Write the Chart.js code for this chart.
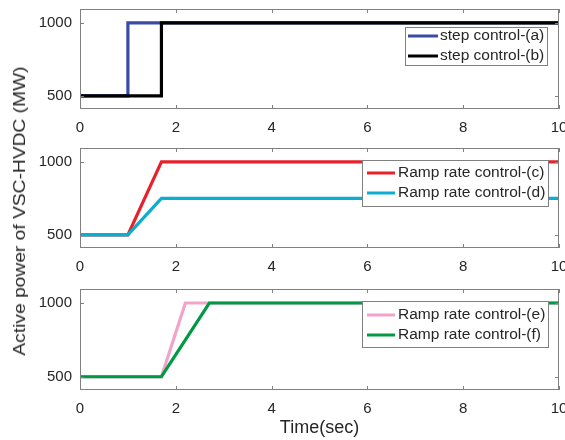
<!DOCTYPE html>
<html><head><meta charset="utf-8">
<script src="https://cdn.jsdelivr.net/npm/chart.js@4.4.0/dist/chart.umd.min.js"></script>
<style>
html,body{margin:0;padding:0;background:#fff;}
#wrap{position:relative;width:565px;height:440px;overflow:hidden;background:#fff;}
canvas{position:absolute;left:0;}
#ylab{position:absolute;left:20px;top:211px;transform:translate(-50%,-50%) rotate(-90deg) scaleX(1.13);white-space:nowrap;font:17px "Liberation Sans",Arial,sans-serif;color:#262626;}
</style></head><body>
<div id="wrap">
<canvas id="c1" width="565" height="140" style="top:0px"></canvas>
<canvas id="c2" width="565" height="140" style="top:139px"></canvas>
<canvas id="c3" width="565" height="159" style="top:281px"></canvas>
<div id="ylab">Active power of VSC-HVDC (MW)</div>
</div>
<script>
// ---- data (time in sec, power in MW) ----
const xTicks = [0, 2, 4, 6, 8, 10];
const yTicks = [500, 1000];

const tA = [0, 1.0, 1.0, 10];   const pA = [500, 500, 1000, 1000];
const tB = [0, 1.7, 1.7, 10];   const pB = [500, 500, 1000, 1000];
const tC = [0, 1.0, 1.7, 10];   const pC = [500, 500, 1000, 1000];
const tD = [0, 1.0, 1.7, 10];   const pD = [500, 500, 750, 750];
const tE = [0, 1.7, 2.2, 10];   const pE = [500, 500, 1000, 1000];
const tF = [0, 1.7, 2.7, 10];   const pF = [500, 500, 1000, 1000];

const labelsTop = ['step control-(a)', 'step control-(b)'];
const labelsMid = ['Ramp rate control-(c)', 'Ramp rate control-(d)'];
const labelsBot = ['Ramp rate control-(e)', 'Ramp rate control-(f)'];

const FONT = '"Liberation Sans", Arial, sans-serif';
const TXT = '#262626';
const FRAME = '#808080';

function pts(t, p) { return t.map((v, i) => ({ x: v, y: p[i] })); }

const framePlugin = {
  id: 'frameTicks',
  afterDatasetsDraw(chart) {
    const { ctx, chartArea: a, scales } = chart;
    ctx.save();
    ctx.strokeStyle = FRAME;
    ctx.lineWidth = 1;
    ctx.strokeRect(a.left + 0.5, a.top + 0.5, a.right - a.left - 1, a.bottom - a.top - 1);
    const L = 4;
    ctx.beginPath();
    xTicks.forEach(v => {
      const px = Math.round(scales.x.getPixelForValue(v)) + 0.5;
      ctx.moveTo(px, a.bottom); ctx.lineTo(px, a.bottom - L);
      ctx.moveTo(px, a.top); ctx.lineTo(px, a.top + L);
    });
    yTicks.forEach(v => {
      const py = Math.round(scales.y.getPixelForValue(v)) + 0.5;
      ctx.moveTo(a.left, py); ctx.lineTo(a.left + L, py);
      ctx.moveTo(a.right, py); ctx.lineTo(a.right - L, py);
    });
    ctx.stroke();
    // legend
    const lg = chart.options.plugins.boxLegend;
    if (lg) {
      ctx.fillStyle = '#fff';
      ctx.fillRect(lg.x, lg.y, lg.w, lg.h);
      ctx.strokeStyle = FRAME;
      ctx.strokeRect(lg.x + 0.5, lg.y + 0.5, lg.w, lg.h);
      ctx.font = '15.5px ' + FONT;
      ctx.textBaseline = 'middle';
      lg.items.forEach((it, i) => {
        const yy = lg.y + lg.row0 + i * lg.rowH;
        ctx.strokeStyle = it.color;
        ctx.lineWidth = 3;
        ctx.beginPath();
        ctx.moveTo(lg.x + lg.sx0, yy); ctx.lineTo(lg.x + lg.sx1, yy);
        ctx.stroke();
        ctx.fillStyle = TXT;
        ctx.fillText(it.text, lg.x + lg.tx, yy);
      });
    }
    ctx.restore();
  }
};

function makeChart(id, sets, labels, legendBox, padTop, xHeight, withTitle) {
  const datasets = sets.map((s, i) => ({
    label: labels[i],
    data: pts(s.t, s.p),
    borderColor: s.color,
    borderWidth: 3.2,
    pointRadius: 0,
    tension: 0,
    fill: false,
    order: s.order
  }));
  legendBox.items = sets.map((s, i) => ({ text: labels[i], color: s.color }));
  return new Chart(document.getElementById(id), {
    type: 'line',
    data: { datasets },
    options: {
      responsive: false,
      animation: false,
      devicePixelRatio: 1,
      layout: { padding: { top: padTop, right: 6, left: 0, bottom: 0 } },
      plugins: { legend: { display: false }, tooltip: { enabled: false }, boxLegend: legendBox },
      scales: {
        x: {
          type: 'linear', min: 0, max: 10,
          grid: { display: false, drawTicks: false },
          border: { display: false },
          afterBuildTicks: sc => { sc.ticks = xTicks.map(v => ({ value: v })); },
          ticks: { font: { family: FONT, size: 15 }, color: TXT, padding: 10, maxRotation: 0, callback: v => String(v) },
          title: withTitle ? { display: true, text: 'Time(sec)', font: { family: FONT, size: 18 }, color: TXT, padding: { top: 0, bottom: 1 } } : { display: false },
          afterFit: sc => { sc.height = xHeight; sc.paddingLeft = 0; sc.paddingRight = 0; }
        },
        y: {
          type: 'linear', min: 410, max: 1095,
          grid: { display: false, drawTicks: false },
          border: { display: false },
          afterBuildTicks: sc => { sc.ticks = yTicks.map(v => ({ value: v })); },
          ticks: { font: { family: FONT, size: 15 }, color: TXT, padding: 8, callback: v => String(v) },
          afterFit: sc => { sc.width = 80; sc.paddingTop = 0; sc.paddingBottom = 0; }
        }
      }
    },
    plugins: [framePlugin]
  });
}

makeChart('c1', [
  { t: tA, p: pA, color: '#3a4aa6', order: 1 },
  { t: tB, p: pB, color: '#000000', order: 0 }
], labelsTop, { x: 405, y: 27, w: 142, h: 38, row0: 9, rowH: 20, sx0: 3, sx1: 33, tx: 35 }, 9, 31, false);

makeChart('c2', [
  { t: tC, p: pC, color: '#e8202a', order: 1 },
  { t: tD, p: pD, color: '#0aaed0', order: 0 }
], labelsMid, { x: 362, y: 21, w: 186, h: 46, row0: 13, rowH: 20, sx0: 5, sx1: 33, tx: 36 }, 9, 31, false);

makeChart('c3', [
  { t: tE, p: pE, color: '#f4a3c8', order: 1 },
  { t: tF, p: pF, color: '#009a44', order: 0 }
], labelsBot, { x: 362, y: 20, w: 186, h: 46, row0: 14, rowH: 20, sx0: 5, sx1: 33, tx: 36 }, 8, 50, true);
</script>
</body></html>
